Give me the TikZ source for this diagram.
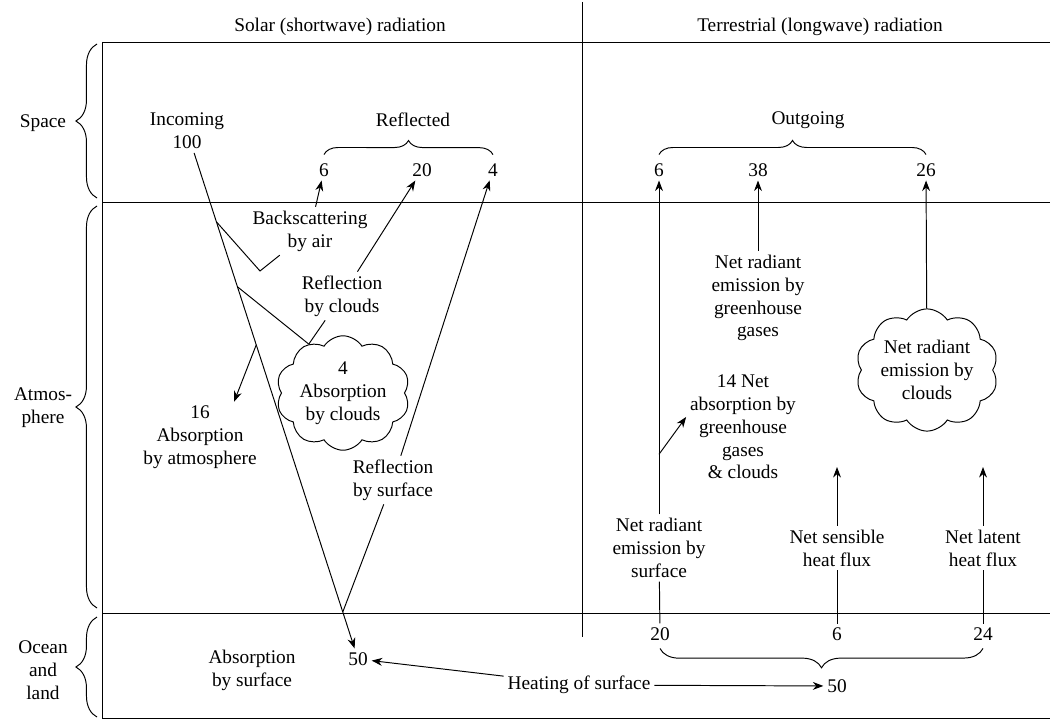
\documentclass[tikz,border=0pt]{standalone}
\usepackage{fontspec}
\setmainfont{Liberation Serif}
\usepackage{tikz}
\usetikzlibrary{arrows.meta,calc,decorations.pathreplacing,shapes.symbols}

\begin{document}
\begin{tikzpicture}[x=0.02cm,y=-0.02cm,line width=0.55pt,
    txt/.style={align=center,inner sep=2pt,font=\fontsize{11}{13}\selectfont},
    flux/.style={-{Stealth[length=6pt,width=4.5pt]}},
    puff/.style={txt,cloud,draw,cloud puffs=10,cloud puff arc=115,aspect=1.25,inner sep=0pt},
    curly/.style={decorate,decoration={brace,amplitude=#1}}]
    \useasboundingbox (0,0) rectangle (1050,723);
    % frame and layers
    \draw (102,42) -- (1050,42);
    \draw (102,42) -- (102,718) -- (1050,718);
    \draw (102,202) -- (1050,202);
    \draw (102,613) -- (1050,613);
    \draw (582,2) -- (582,637);
    \node[txt] (tsol) at (340,27) {Solar (shortwave) radiation};
    \node[txt] (tter) at (820,27) {Terrestrial (longwave) radiation};
    \node[txt] (lsp) at (43,123) {Space};
    \node[txt] (lat) at (43,408) {Atmos-\\phere};
    \node[txt] (loc) at (43,670) {Ocean\\and\\land};
    \draw[curly=12pt] (97,198) -- (97,44);
    \draw[curly=12pt] (97,608) -- (97,206);
    \draw[curly=12pt] (97,717) -- (97,617);
    % solar side
    \node[txt] (inc) at (187,131) {Incoming\\100};
    \node[txt] (refl) at (413,120) {Reflected};
    \node[txt] (r6) at (324,170) {6};
    \node[txt] (r20) at (422,170) {20};
    \node[txt] (r4) at (493,170) {4};
    \draw[curly=8pt] ($(r6.north)+(0,-5)$) -- ($(r4.north)+(0,-5)$);
    \node[txt] (bs) at (310,231) {Backscattering\\by air};
    \node[txt] (rc) at (342,296) {Reflection\\by clouds};
    \node[puff,minimum width=2.3cm,minimum height=1.9cm] (cab) at (343,393) {4\\Absorption\\by clouds};
    \node[txt] (aat) at (200,437) {16\\Absorption\\by atmosphere};
    \node[txt] (rs) at (393,480) {Reflection\\by surface};
    \node[txt] (n50) at (358,659) {50};
    \node[txt] (asf) at (252,670) {Absorption\\by surface};
    \node[txt] (hs) at (579,685) {Heating of surface};
    \node[txt] (h50) at (837,686) {50};
    \coordinate (i1) at ($(inc)!0.172!(n50)$);
    \coordinate (i2) at ($(inc)!0.295!(n50)$);
    \coordinate (i3) at ($(inc)!0.405!(n50)$);
    \coordinate (srf) at ($(inc)!0.911!(n50)$);
    \coordinate (bsv) at (260,271);
    \draw[flux] (inc) -- (n50);
    \draw (i1) -- (bsv) -- (bs);
    \draw[flux] (bs) -- (r6);
    \draw (i2) -- (cab.125);
    \draw (cab.125) -- (rc);
    \draw[flux] (rc) -- (r20);
    \draw[flux] (i3) -- (aat.46);
    \draw (srf) -- (rs);
    \draw[flux] (rs) -- (r4);
    \draw[flux] (hs) -- (n50);
    \draw[flux] (hs) -- (h50);
    % terrestrial side
    \node[txt] (outg) at (808,120) {Outgoing};
    \node[txt] (o6) at (659,170) {6};
    \node[txt] (o38) at (758,170) {38};
    \node[txt] (o26) at (926,170) {26};
    \draw[curly=8pt] ($(o6.north)+(0,-5)$) -- ($(o26.north)+(0,-5)$);
    \node[txt] (ngh) at (758,298) {Net radiant\\emission by\\greenhouse\\gases};
    \node[txt] (nab) at (743,427) {14 Net\\absorption by\\greenhouse\\gases\\\& clouds};
    \node[puff,minimum width=2.6cm,minimum height=2.1cm] (cem) at (927,370) {Net radiant\\emission by\\clouds};
    \node[txt] (nrs) at (659,548) {Net radiant\\emission by\\surface};
    \node[txt] (nsh) at (837,548) {Net sensible\\heat flux};
    \node[txt] (nlh) at (983,548) {Net latent\\heat flux};
    \node[txt] (s20) at (660,634) {20};
    \node[txt] (s6) at (837,634) {6};
    \node[txt] (s24) at (983,634) {24};
    \draw[curly=11pt] ($(s24.south)+(0,4)$) -- ($(s20.south)+(0,4)$);
    \coordinate (nb) at ($(nrs.north)!0.18!(o6.south)$);
    \coordinate (snt) at (837,467);
    \coordinate (lnt) at (983,467);
    \draw[flux] (nrs) -- (o6);
    \draw (nrs) -- (s20);
    \draw[flux] (nb) -- (nab.170);
    \draw[flux] (ngh) -- (o38);
    \draw[flux] (cem) -- (o26);
    \draw[flux] (nsh) -- (snt);
    \draw[flux] (nlh) -- (lnt);
    \draw (nsh) -- (s6);
    \draw (nlh) -- (s24);
\end{tikzpicture}
\end{document}
